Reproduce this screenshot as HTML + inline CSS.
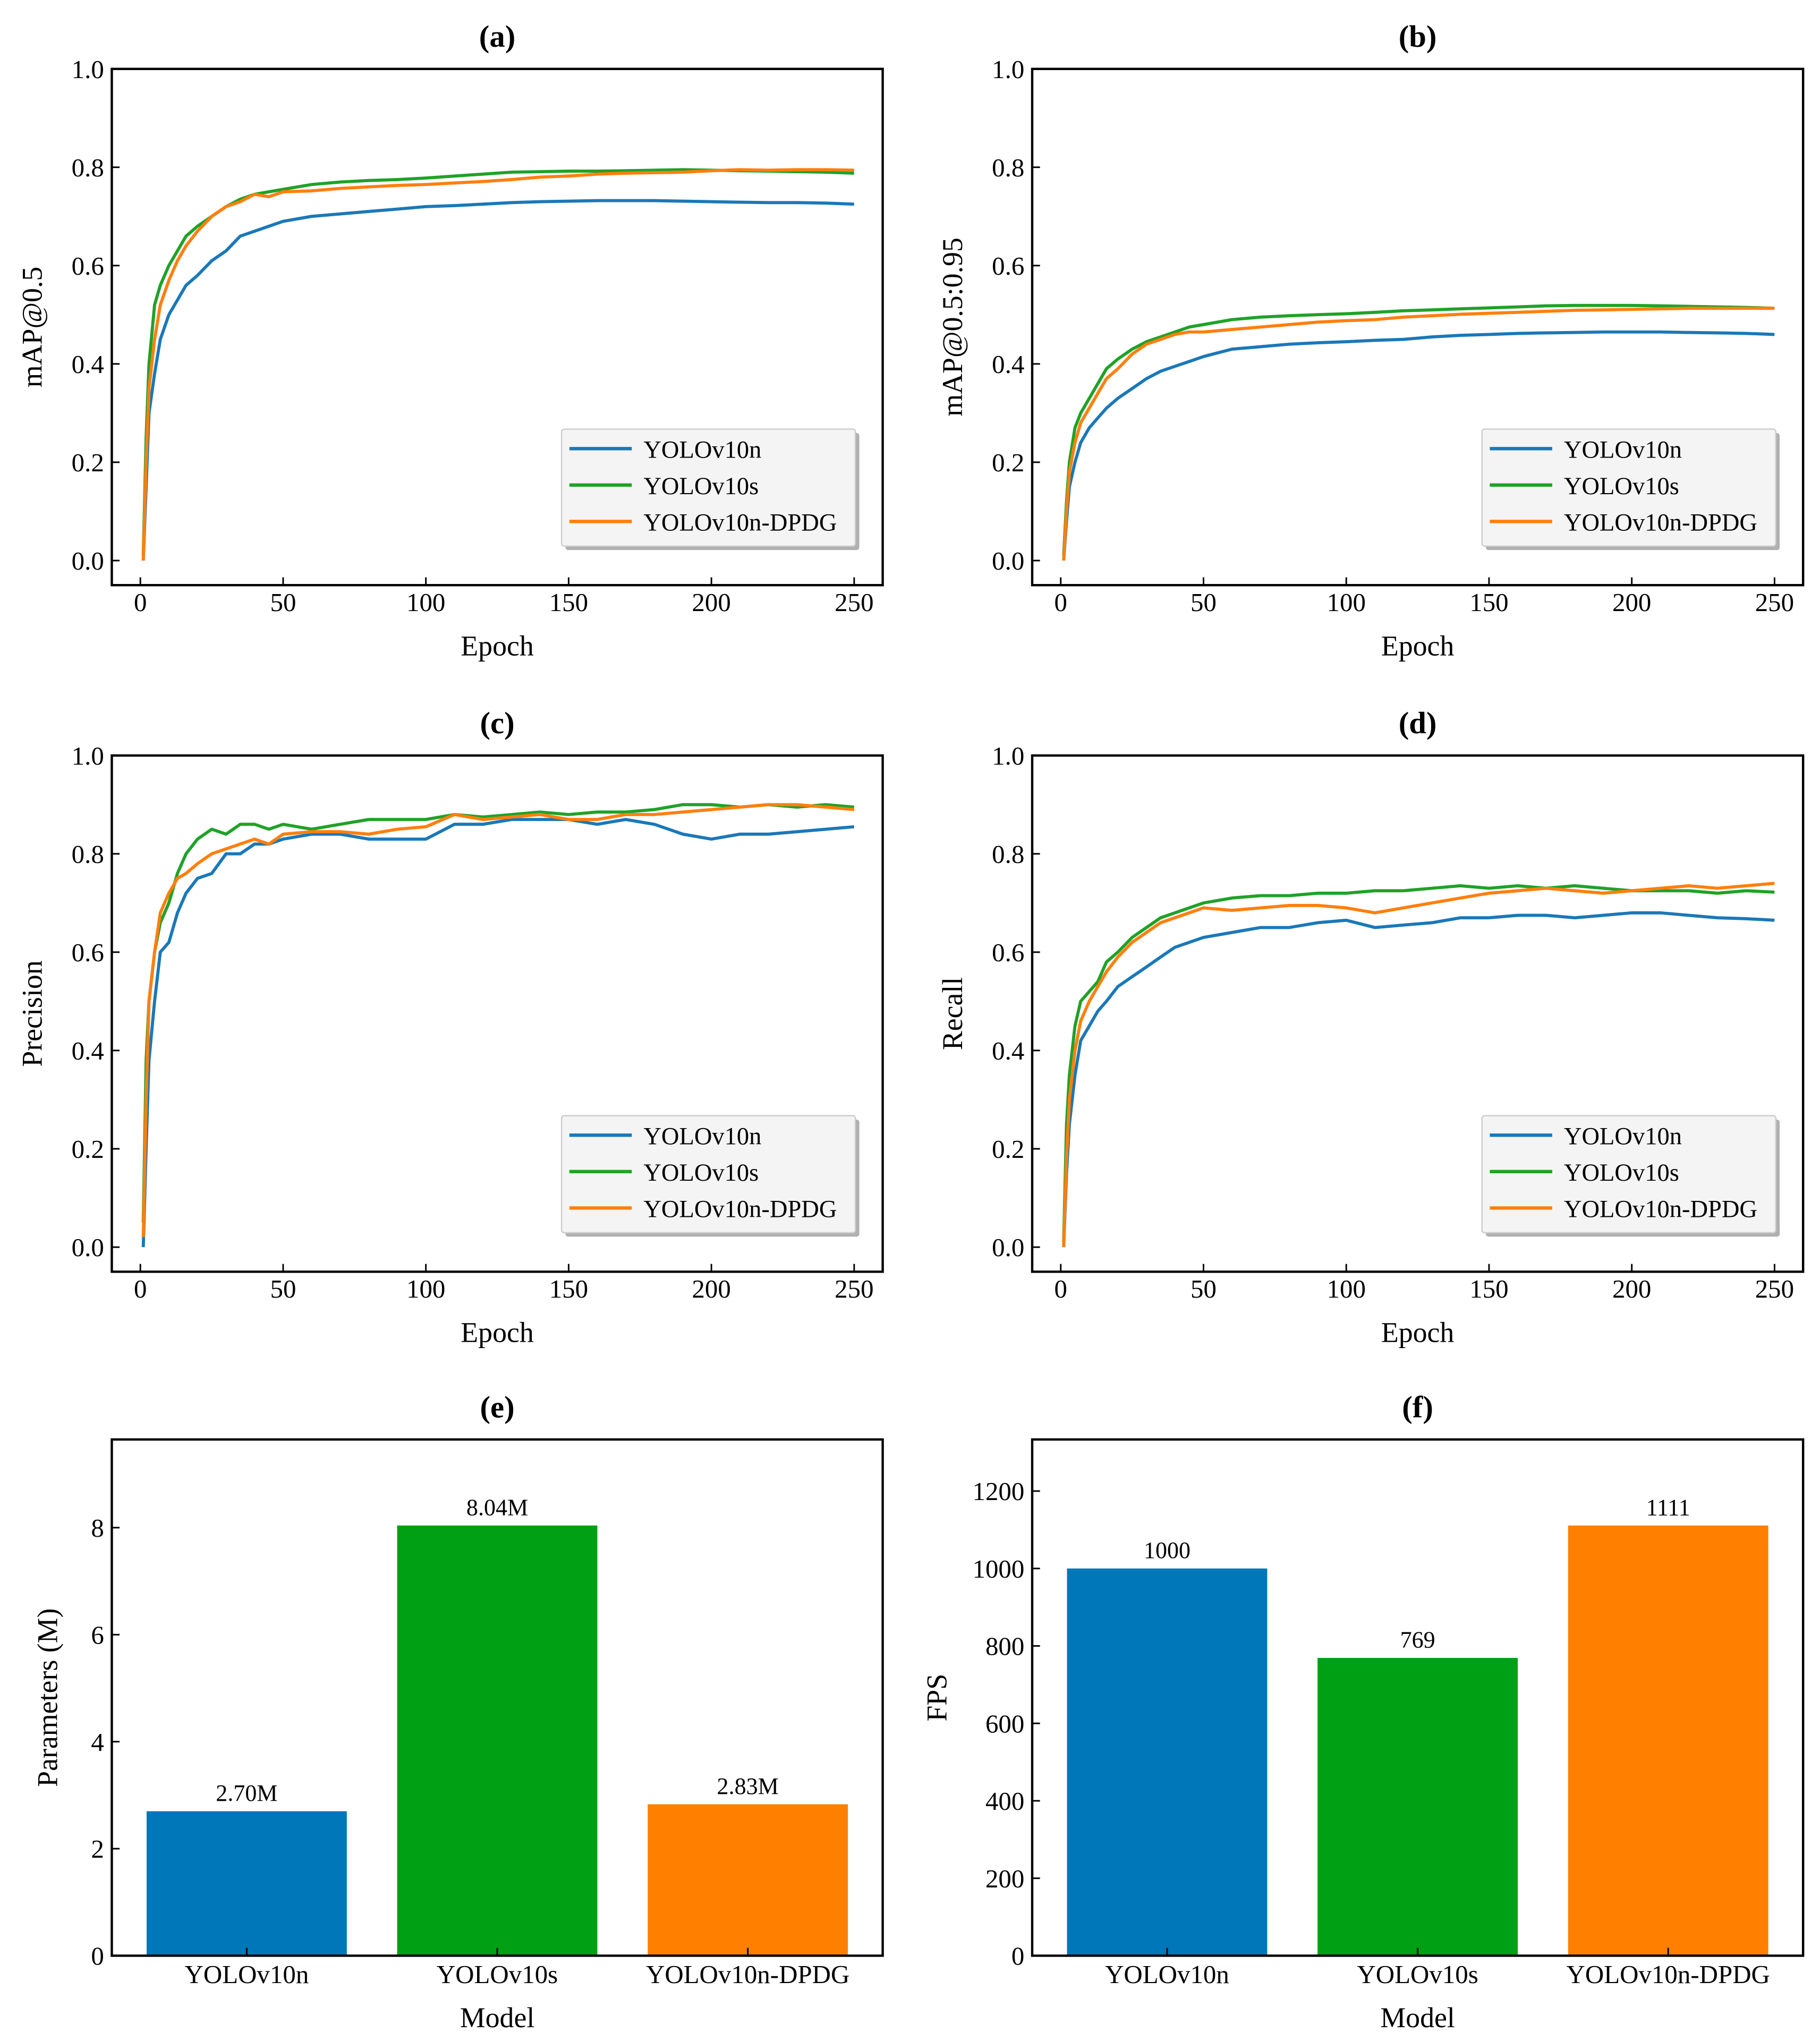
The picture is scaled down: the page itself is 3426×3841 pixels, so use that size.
<!DOCTYPE html>
<html><head><meta charset="utf-8"><style>
html,body{margin:0;padding:0;background:#fff}
svg{display:block}
text{font-family:"Liberation Serif",serif;fill:#000}
</style></head><body>
<svg id="fig" width="3426" height="3841" viewBox="0 0 1400 1569.6" xmlns="http://www.w3.org/2000/svg"></svg>
<script>
const epochs=[1,2,3,5,7,10,13,16,20,25,30,35,40,45,50,60,70,80,90,100,110,120,130,140,150,160,170,180,190,200,210,220,230,240,250];
const seriesNames=["YOLOv10n","YOLOv10s","YOLOv10n-DPDG"];
const aN=[0,0.15,0.3,0.38,0.45,0.5,0.53,0.56,0.58,0.61,0.63,0.66,0.67,0.68,0.69,0.70,0.705,0.71,0.715,0.72,0.722,0.725,0.728,0.73,0.731,0.732,0.732,0.732,0.731,0.73,0.729,0.728,0.728,0.727,0.725];
const aS=[0.01,0.25,0.4,0.52,0.56,0.6,0.63,0.66,0.68,0.70,0.72,0.735,0.745,0.75,0.755,0.765,0.77,0.773,0.775,0.778,0.782,0.786,0.79,0.791,0.792,0.792,0.793,0.794,0.795,0.794,0.793,0.792,0.791,0.79,0.788];
const aD=[0,0.2,0.35,0.45,0.52,0.57,0.61,0.64,0.67,0.70,0.72,0.73,0.745,0.74,0.75,0.752,0.757,0.76,0.763,0.765,0.768,0.771,0.775,0.78,0.782,0.786,0.788,0.789,0.79,0.793,0.795,0.794,0.795,0.795,0.794];
const bN=[0,0.08,0.15,0.2,0.24,0.27,0.29,0.31,0.33,0.35,0.37,0.385,0.395,0.405,0.415,0.43,0.435,0.44,0.443,0.445,0.448,0.45,0.455,0.458,0.46,0.462,0.463,0.464,0.465,0.465,0.465,0.464,0.463,0.462,0.46];
const bS=[0.01,0.12,0.2,0.27,0.3,0.33,0.36,0.39,0.41,0.43,0.445,0.455,0.465,0.475,0.48,0.49,0.495,0.498,0.5,0.502,0.505,0.508,0.51,0.512,0.514,0.516,0.518,0.519,0.519,0.519,0.518,0.517,0.516,0.515,0.513];
const bD=[0,0.1,0.18,0.24,0.28,0.31,0.34,0.37,0.39,0.42,0.44,0.45,0.46,0.465,0.465,0.47,0.475,0.48,0.485,0.488,0.49,0.495,0.498,0.501,0.503,0.505,0.507,0.509,0.51,0.511,0.512,0.513,0.513,0.513,0.513];
const cN=[0,0.2,0.38,0.5,0.6,0.62,0.68,0.72,0.75,0.76,0.8,0.8,0.82,0.82,0.83,0.84,0.84,0.83,0.83,0.83,0.86,0.86,0.87,0.87,0.87,0.86,0.87,0.86,0.84,0.83,0.84,0.84,0.845,0.85,0.855];
const cS=[0.05,0.38,0.5,0.6,0.66,0.7,0.76,0.8,0.83,0.85,0.84,0.86,0.86,0.85,0.86,0.85,0.86,0.87,0.87,0.87,0.88,0.875,0.88,0.885,0.88,0.885,0.885,0.89,0.9,0.9,0.895,0.9,0.895,0.9,0.895];
const cD=[0.02,0.3,0.5,0.6,0.68,0.72,0.75,0.76,0.78,0.8,0.81,0.82,0.83,0.82,0.84,0.845,0.845,0.84,0.85,0.855,0.88,0.87,0.875,0.88,0.87,0.87,0.88,0.88,0.885,0.89,0.895,0.9,0.9,0.895,0.89];
const dN=[0,0.15,0.25,0.35,0.42,0.45,0.48,0.5,0.53,0.55,0.57,0.59,0.61,0.62,0.63,0.64,0.65,0.65,0.66,0.665,0.65,0.655,0.66,0.67,0.67,0.675,0.675,0.67,0.675,0.68,0.68,0.675,0.67,0.668,0.665];
const dS=[0.01,0.25,0.35,0.45,0.5,0.52,0.54,0.58,0.6,0.63,0.65,0.67,0.68,0.69,0.7,0.71,0.715,0.715,0.72,0.72,0.725,0.725,0.73,0.735,0.73,0.735,0.73,0.735,0.73,0.725,0.725,0.725,0.72,0.725,0.722];
const dD=[0,0.18,0.3,0.4,0.46,0.5,0.53,0.56,0.59,0.62,0.64,0.66,0.67,0.68,0.69,0.685,0.69,0.695,0.695,0.69,0.68,0.69,0.7,0.71,0.72,0.725,0.73,0.725,0.72,0.725,0.73,0.735,0.73,0.735,0.74];
const xTicks=[0,50,100,150,200,250];
const yTicksLine=[0,0.2,0.4,0.6,0.8,1.0];
const models=["YOLOv10n","YOLOv10s","YOLOv10n-DPDG"];
const params=[2.70,8.04,2.83];
const paramLabels=["2.70M","8.04M","2.83M"];
const paramTicks=[0,2,4,6,8];
const fps=[1000,769,1111];
const fpsLabels=["1000","769","1111"];
const fpsTicks=[0,200,400,600,800,1000,1200];

const lineColors=["#1a78b8","#1fa228","#ff7f0e"];
const barColors=["#0077b8","#00a014","#ff8000"];
const NS="http://www.w3.org/2000/svg";
const svg=document.getElementById('fig');
function el(tag,attrs,parent){const e=document.createElementNS(NS,tag);for(const k in attrs)e.setAttribute(k,attrs[k]);(parent||svg).appendChild(e);return e;}
function txt(s,attrs,parent){const e=el('text',attrs,parent);e.textContent=s;return e;}

function frame(g,L,R,T,B){el('rect',{x:L,y:T,width:R-L,height:B-T,fill:'none',stroke:'#000','stroke-width':1.8},g);}

function linePanel(name,title,ylabel,L,T,datas){
  const R=L+593,B=T+397;
  const g=el('g',{});
  
  
  const sx=v=>L+(v+10)/270*(R-L);
  const sy=v=>B-(v+0.05)/1.05*(B-T);
  const t=txt(title,{x:(L+R)/2,y:T-17,'font-size':24,'font-weight':'bold','text-anchor':'middle'},g);
  
  
  xTicks.forEach(v=>{el('line',{x1:sx(v),x2:sx(v),y1:B,y2:B-6,stroke:'#000','stroke-width':1.2},g);
    const l=txt(v,{x:sx(v),y:B+20,'font-size':20,'text-anchor':'middle'},g);
    
    });
  yTicksLine.forEach(v=>{el('line',{x1:L,x2:L+6,y1:sy(v),y2:sy(v),stroke:'#000','stroke-width':1.2},g);
    const l=txt(v.toFixed(1),{x:L-6,y:sy(v)+7,'font-size':20,'text-anchor':'end'},g);
    
    });
  const xl=txt('Epoch',{x:(L+R)/2,y:B+54,'font-size':22,'text-anchor':'middle'},g);
  
  
  const yx=L-54,yy=(T+B)/2;
  const yl=txt(ylabel,{x:yx,y:yy,'font-size':22,'text-anchor':'middle',transform:`rotate(-90 ${yx} ${yy})`},g);
  
  
  datas.forEach((d,i)=>{
    const p=el('polyline',{points:d.map((v,j)=>sx(epochs[j]).toFixed(1)+','+sy(v).toFixed(1)).join(' '),fill:'none',stroke:lineColors[i],'stroke-width':2.4,'stroke-linejoin':'round'},g);
    
    
  });
  frame(g,L,R,T,B);
  const lg=el('g',{},g);
  
  
  const lx=L+346,ly=T+277;
  el('rect',{x:lx+3,y:ly+3,width:226,height:90,fill:'#b0b0b0',rx:2},lg);
  el('rect',{x:lx,y:ly,width:226,height:90,fill:'#f4f4f4',stroke:'#ccc','stroke-width':1,rx:2},lg);
  seriesNames.forEach((s,i)=>{
    const y=ly+15+i*28;
    el('line',{x1:lx+6,x2:lx+54,y1:y,y2:y,stroke:lineColors[i],'stroke-width':2.6},lg);
    const e=txt(s,{x:lx+63,y:y+7,'font-size':19},lg);
    
    
  });
}
function barPanel(name,title,ylabel,L,T,vals,labels,ticks,ymax){
  const R=L+593,B=T+397;
  const g=el('g',{});
  
  
  const sy=v=>B-v/ymax*(B-T);
  const w=R-L, step=w/3.1;
  const cx=i=>L+(0.5+ (i+0.05)) *0+ (L + w*(0.175+i*0.325)) - L;
  const t=txt(title,{x:(L+R)/2,y:T-17,'font-size':24,'font-weight':'bold','text-anchor':'middle'},g);
  
  
  vals.forEach((v,i)=>{
    const c=cx(i);
    const r=el('rect',{x:c-77,y:sy(v),width:154,height:B-sy(v),fill:barColors[i]},g);
    
    
    const l=txt(labels[i],{x:c,y:sy(v)-8,'font-size':18,'text-anchor':'middle'},g);
    
    
    el('line',{x1:c,x2:c,y1:B,y2:B-6,stroke:'#000','stroke-width':1.2},g);
    const xl=txt(models[i],{x:c,y:B+21,'font-size':20,'text-anchor':'middle'},g);
    
    
  });
  ticks.forEach(v=>{el('line',{x1:L,x2:L+6,y1:sy(v),y2:sy(v),stroke:'#000','stroke-width':1.2},g);
    const l=txt(v,{x:L-6,y:sy(v)+7,'font-size':20,'text-anchor':'end'},g);
    
    });
  const xl=txt('Model',{x:(L+R)/2,y:B+55,'font-size':22,'text-anchor':'middle'},g);
  
  
  const yx=L-(ylabel==='FPS'?66:42),yy=(T+B)/2;
  const yl=txt(ylabel,{x:yx,y:yy,'font-size':22,'text-anchor':'middle',transform:`rotate(-90 ${yx} ${yy})`},g);
  
  
  frame(g,L,R,T,B);
}
linePanel('panel-a-map50','(a)','mAP@0.5',86,53,[aN,aS,aD]);
linePanel('panel-b-map50-95','(b)','mAP@0.5:0.95',794,53,[bN,bS,bD]);
linePanel('panel-c-precision','(c)','Precision',86,581,[cN,cS,cD]);
linePanel('panel-d-recall','(d)','Recall',794,581,[dN,dS,dD]);
barPanel('panel-e-parameters','(e)','Parameters (M)',86,1107,params,paramLabels,paramTicks,8.04*1.2);
barPanel('panel-f-fps','(f)','FPS',794,1107,fps,fpsLabels,fpsTicks,1111*1.2);
</script>
</body></html>
